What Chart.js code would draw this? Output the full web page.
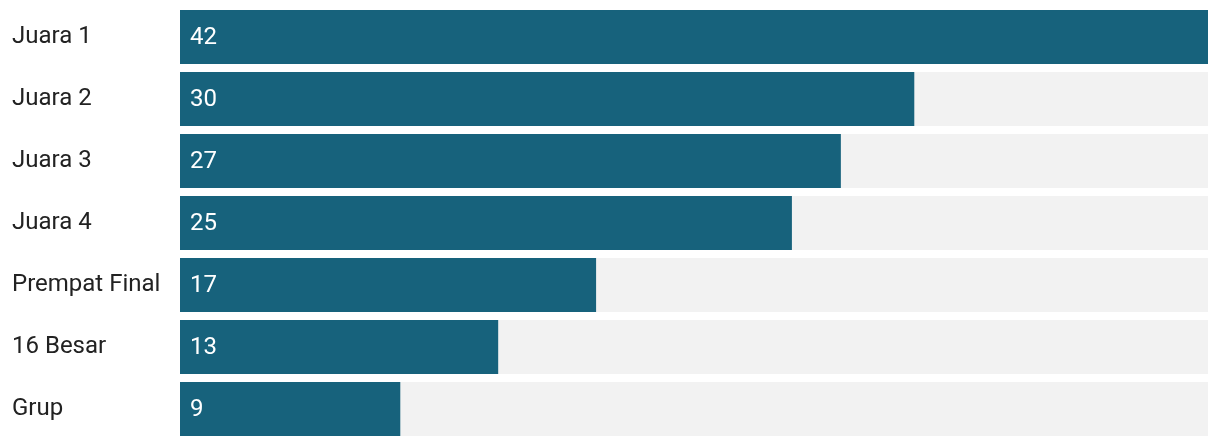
<!DOCTYPE html>
<html>
<head>
<meta charset="utf-8">
<script src="https://cdn.jsdelivr.net/npm/chart.js@4"></script>
<style>
  html, body { margin: 0; padding: 0; background: #ffffff; }
  #wrap { width: 1220px; height: 446px; position: relative; }
</style>
</head>
<body>
<div id="wrap"><canvas id="c" width="1220" height="446"></canvas></div>
<script>
const categories = ["Juara 1", "Juara 2", "Juara 3", "Juara 4", "Prempat Final", "16 Besar", "Grup"];
const values = [42, 30, 27, 25, 17, 13, 9];
const trackMax = Math.max(...values);
const trackValues = categories.map(() => trackMax);

const valueLabels = {
  id: 'valueLabels',
  afterDatasetsDraw(chart) {
    const ctx = chart.ctx;
    const meta = chart.getDatasetMeta(1);
    ctx.save();
    ctx.fillStyle = '#ffffff';
    ctx.font = '24px Roboto';
    ctx.textAlign = 'left';
    ctx.textBaseline = 'middle';
    meta.data.forEach((bar, i) => {
      ctx.fillText(String(values[i]), bar.base + 10, bar.y + 1);
    });
    ctx.restore();
  }
};

new Chart(document.getElementById('c'), {
  type: 'bar',
  data: {
    labels: categories,
    datasets: [
      { data: trackValues, backgroundColor: '#f2f2f2', grouped: false, order: 2,
        barPercentage: 54/62, categoryPercentage: 1 },
      { data: values, backgroundColor: '#17627c', grouped: false, order: 1,
        barPercentage: 54/62, categoryPercentage: 1 }
    ]
  },
  options: {
    indexAxis: 'y',
    responsive: false,
    animation: false,
    layout: { padding: { left: 12, right: 12, top: 6, bottom: 6 } },
    plugins: { legend: { display: false }, tooltip: { enabled: false } },
    scales: {
      x: { display: false, min: 0, max: trackMax },
      y: {
        grid: { display: false },
        border: { display: false },
        ticks: { crossAlign: 'far', color: '#222222', font: { family: 'Roboto', size: 24 }, padding: 0 },
        afterFit(scale) { scale.width = 168; scale.paddingTop = 0; scale.paddingBottom = 0; }
      }
    }
  },
  plugins: [valueLabels]
});
</script>
</body>
</html>
